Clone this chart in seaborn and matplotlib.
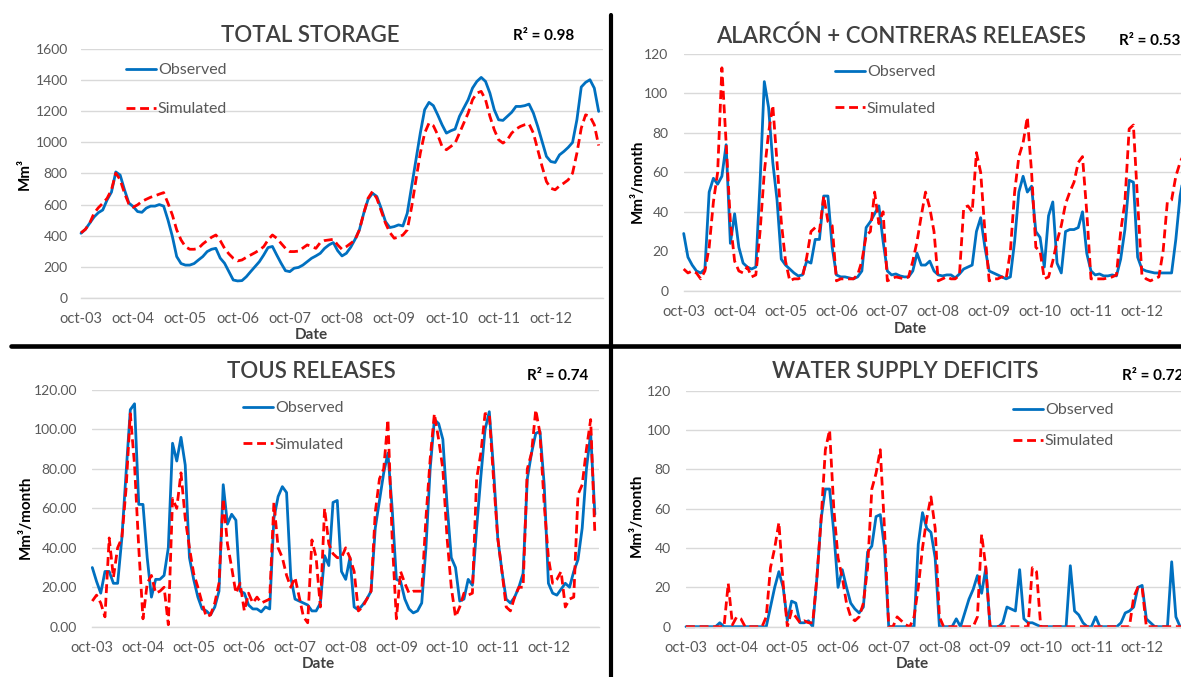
import numpy as np
import pandas as pd
import matplotlib.pyplot as plt
import seaborn as sns
from matplotlib.lines import Line2D

# monthly series, oct-03 .. sep-13
months = pd.date_range('2003-10-01', periods=120, freq='MS')
tick_labels = ['oct-03', 'oct-04', 'oct-05', 'oct-06', 'oct-07',
               'oct-08', 'oct-09', 'oct-10', 'oct-11', 'oct-12']

storage_obs = [415, 440, 480, 520, 548, 565, 630, 680, 810, 790, 695, 610,
               587, 555, 550, 577, 590, 590, 600, 590, 500, 395, 265, 220,
               210, 210, 220, 243, 265, 297, 312, 318, 255, 222, 168, 114,
               108, 110, 135, 168, 200, 232, 275, 323, 330, 275, 222, 174,
               168, 190, 195, 210, 232, 254, 269, 286, 318, 340, 355, 303,
               269, 286, 325, 376, 437, 544, 634, 673, 652, 576, 490, 452,
               458, 469, 462, 544, 716, 888, 1060, 1211, 1258, 1237, 1178, 1114,
               1060, 1075, 1086, 1168, 1222, 1275, 1350, 1393, 1419, 1393, 1318, 1211,
               1146, 1142, 1168, 1194, 1232, 1232, 1237, 1247, 1189, 1103, 1006, 910,
               877, 871, 920, 942, 968, 1000, 1146, 1357, 1387, 1404, 1350, 1200]
storage_sim = [418, 440, 480, 544, 580, 608, 640, 695, 802, 760, 673, 604,
               583, 598, 620, 634, 647, 656, 667, 677, 608, 533, 437, 372,
               329, 312, 312, 318, 346, 368, 389, 404, 368, 318, 282, 254,
               237, 243, 260, 275, 290, 307, 329, 372, 404, 383, 350, 318,
               297, 297, 300, 320, 340, 330, 318, 355, 368, 372, 376, 340,
               312, 329, 350, 372, 437, 544, 641, 684, 640, 560, 480, 420,
               383, 390, 404, 437, 583, 759, 931, 1060, 1125, 1108, 1049, 974,
               953, 974, 996, 1060, 1125, 1189, 1275, 1318, 1329, 1275, 1168, 1082,
               1017, 996, 1017, 1060, 1086, 1103, 1114, 1120, 1060, 953, 845, 748,
               705, 695, 720, 738, 759, 802, 931, 1092, 1178, 1168, 1114, 980]

alarcon_obs = [29, 17, 13, 10, 9, 11, 50, 57, 54, 58, 74, 24,
               39, 22, 14, 12, 11, 12, 55, 106, 93, 65, 46, 16,
               13, 11, 9, 7.5, 8, 15, 14, 26, 26, 48, 48, 22,
               8, 7, 7, 6.5, 6, 7, 10, 32, 35, 39, 43, 25,
               10, 8, 8.5, 7.5, 7, 7, 10, 19, 13, 13, 15, 10,
               8, 7.5, 8, 8, 6.5, 8.5, 11, 12, 13, 30, 37, 22,
               10, 9, 8, 7, 6, 7, 25, 50, 58, 50, 53, 30,
               27, 12, 38, 45, 14, 9, 30, 31, 31, 32, 40, 19,
               10, 8, 8.5, 7.5, 7.5, 8, 7.5, 16, 31, 56, 55, 17,
               11, 10, 9.5, 9, 9, 9, 9, 9, 26, 48, 60, 55]
alarcon_sim = [11, 9, 10, 9, 6, 10, 22, 45, 60, 113, 75, 35,
               15, 10, 9, 12, 7, 8, 30, 60, 80, 94, 65, 35,
               15, 5, 6, 6, 7, 17, 30, 32, 30, 48, 35, 33,
               5, 6, 6, 6, 6, 8, 15, 28, 30, 50, 34, 40,
               5, 6, 7, 6.5, 6, 7, 15, 25, 38, 50, 42, 30,
               5, 6, 7, 6, 6, 8, 42, 43, 40, 70, 60, 30,
               5, 6, 6, 7, 6, 20, 50, 68, 75, 88, 60, 22,
               20, 6, 7, 15, 25, 33, 44, 50, 55, 65, 68, 40,
               6, 6, 6, 6, 6.5, 7, 8, 30, 45, 82, 84, 45,
               8, 6, 5, 6, 7, 20, 45, 46, 58, 65, 70, 60]

tous_obs = [30, 23, 17, 28, 28, 22, 22, 45, 78, 110, 113, 62,
            62, 35, 15, 24, 24, 26, 40, 93, 84, 96, 82, 35,
            24, 15, 9, 8, 6, 10, 18, 72, 52, 57, 54, 18,
            17, 11, 9, 9, 7.5, 10, 9, 55, 66, 71, 68, 25,
            14, 13, 12, 11, 8, 8, 12, 36, 31, 63, 64, 28,
            24, 35, 10, 8.5, 11, 14, 18, 50, 64, 78, 88, 60,
            24, 23, 14, 9, 7, 8, 12, 40, 80, 105, 103, 95,
            62, 35, 30, 13, 14, 24, 21, 50, 76, 100, 109, 80,
            45, 28, 14, 12, 15, 20, 27, 75, 88, 98, 99, 72,
            22, 17, 16, 19, 22, 20, 28, 34, 50, 80, 98, 57]
tous_sim = [13, 16, 12, 5, 45, 25, 40, 45, 70, 108, 82, 40,
            4, 22, 26, 17, 18, 20, 1, 65, 60, 78, 55, 40,
            27, 20, 12, 5, 6, 12, 22, 65, 42, 30, 17, 22,
            8, 17, 12, 15, 12, 13, 14, 63, 40, 35, 26, 20,
            25, 15, 5, 2, 44, 35, 10, 60, 42, 37, 35, 35,
            40, 35, 28, 8, 10, 14, 18, 58, 75, 80, 105, 45,
            4, 28, 22, 17, 18, 18, 18, 55, 85, 108, 95, 80,
            45, 20, 5, 10, 17, 16, 17, 75, 88, 108, 108, 75,
            45, 28, 10, 8, 15, 20, 20, 80, 88, 110, 98, 62,
            35, 22, 24, 28, 10, 14, 15, 67, 72, 90, 105, 47]

deficit_obs = [0, 0, 0, 0, 0, 0, 0, 0, 2, 0, 0, 0,
               0, 0, 0, 0, 0, 0, 0, 0, 10, 20, 28, 20,
               3, 13, 12, 2, 2, 3, 0, 25, 55, 70, 70, 48,
               20, 29, 20, 12, 9, 7, 10, 38, 41, 56, 57, 40,
               0, 0, 0, 0, 0, 0, 0, 42, 58, 50, 48, 35,
               0, 0, 0, 0, 4, 0, 7, 14, 19, 26, 17, 30,
               0, 0, 0, 2, 10, 9, 8, 29, 4, 2, 2, 1,
               0, 0, 0, 0, 0, 0, 0, 31, 8, 6, 2, 0,
               0, 5, 0, 0, 0, 0, 0, 2, 7, 8, 10, 20,
               21, 4, 2, 0, 0, 0, 0, 33, 5, 0, 0, 0]
deficit_sim = [0, 0, 0, 0, 0, 0, 0, 0, 0, 0, 22, 1,
               5, 4, 0, 0, 0, 0, 0, 5, 30, 40, 53, 22,
               0, 8, 5, 2, 3, 2, 2, 25, 55, 90, 100, 60,
               35, 25, 12, 5, 3, 5, 12, 30, 70, 78, 90, 50,
               0, 0, 5, 3, 1, 0, 5, 20, 40, 55, 66, 50,
               5, 0, 0, 0, 0, 0, 0, 0, 0, 5, 47, 30,
               0, 0, 0, 0, 0, 0, 0, 0, 0, 0, 30, 28,
               0, 0, 0, 0, 0, 0, 0, 0, 0, 0, 0, 0,
               0, 0, 0, 0, 0, 0, 0, 0, 0, 0, 15, 20,
               20, 0, 0, 0, 0, 0, 0, 0, 0, 0, 0, 0]

titles = ['TOTAL STORAGE', 'ALARCÓN + CONTRERAS RELEASES',
          'TOUS RELEASES', 'WATER SUPPLY DEFICITS']
r2_labels = ['R² = 0.98', 'R² = 0.53', 'R² = 0.74', 'R² = 0.72']

sns.set_style('white')
plt.rcParams['font.family'] = ['Lato', 'DejaVu Sans']

W, H = 1181, 677
fig = plt.figure(figsize=(W / 100, H / 100), dpi=100)
BLUE, RED, GRID = '#0070C0', '#FF0000', '#D9D9D9'


def fx(x):
    return x / W


def fy(y):
    return 1 - y / H


# pixel layout of each panel (the right-hand charts run past the picture edge, as in the original)
panels = [
    dict(box=(81, 49.3, 603, 297.7), obs=storage_obs, sim=storage_sim, ymax=1600, ystep=200,
         fmt='{:.0f}', ylab='Mm³', ylab_xy=(25, 174), title_xy=(310, 35), r2_xy=(513, 36),
         date_xy=(311, 335), leg_xy=(126, 63), lsp=1.55, ypad=9.5),
    dict(box=(683.7, 54, 1192.8, 290.7), obs=alarcon_obs, sim=alarcon_sim, ymax=120, ystep=20,
         fmt='{:.0f}', ylab='Mm³/month', ylab_xy=(638, 181), title_xy=(901, 36), r2_xy=(1119, 41),
         date_xy=(910, 329), leg_xy=(835, 65), lsp=1.42, ypad=11),
    dict(box=(92.3, 390, 599.1, 626.7), obs=tous_obs, sim=tous_sim, ymax=120, ystep=20,
         fmt='{:.2f}', ylab='Mm³/month', ylab_xy=(26, 517), title_xy=(311, 372), r2_xy=(527, 376),
         date_xy=(318, 664), leg_xy=(243, 401), lsp=1.42, ypad=11),
    dict(box=(686, 390.7, 1192.8, 626.7), obs=deficit_obs, sim=deficit_sim, ymax=120, ystep=20,
         fmt='{:.0f}', ylab='Mm³/month', ylab_xy=(637, 515), title_xy=(905, 372), r2_xy=(1122, 376),
         date_xy=(912, 664), leg_xy=(1013, 403), lsp=1.05, ypad=11),
]

for p, title, r2 in zip(panels, titles, r2_labels):
    left, top, right, bottom = p['box']
    ax = fig.add_axes([fx(left), fy(bottom), (right - left) / W, (bottom - top) / H])
    idx = np.arange(len(months))
    sns.lineplot(x=idx, y=p['obs'], ax=ax, color=BLUE, linewidth=2,
                 label='Observed', clip_on=False)
    sns.lineplot(x=idx, y=p['sim'], ax=ax, color=RED, linewidth=2,
                 linestyle=(0, (3.2, 1.7)), label='Simulated', clip_on=False)

    ax.set_xlim(0, 120)
    ax.set_ylim(0, p['ymax'])
    ax.set_xticks(np.arange(0, 121, 12))
    ax.set_xticklabels(tick_labels + [''])
    yt = np.arange(0, p['ymax'] + 1, p['ystep'])
    ax.set_yticks(yt)
    ax.set_yticklabels([p['fmt'].format(v) for v in yt])
    ax.set_xlabel('')
    ax.set_ylabel('')
    for s in ['left', 'top', 'right']:
        ax.spines[s].set_visible(False)
    ax.spines['bottom'].set_color(GRID)
    ax.spines['bottom'].set_linewidth(1)
    ax.grid(axis='y', color=GRID, linewidth=1)
    ax.grid(axis='x', visible=False)
    ax.set_axisbelow(True)
    ax.tick_params(axis='x', length=5, width=1, color=GRID, direction='out',
                   labelsize=10.5, labelcolor='#595959', pad=5)
    ax.tick_params(axis='y', length=0, labelsize=10, labelcolor='#595959', pad=p['ypad'])

    ax.legend(loc='upper left', bbox_to_anchor=(fx(p['leg_xy'][0]), fy(p['leg_xy'][1])),
              bbox_transform=fig.transFigure, frameon=False, borderpad=0, borderaxespad=0,
              handlelength=1.9, handletextpad=0.1, labelspacing=p['lsp'],
              fontsize=11.5, labelcolor='#595959')

    fig.text(fx(p['title_xy'][0]), fy(p['title_xy'][1]), title, ha='center', va='center',
             fontsize=16, color='#404040', fontweight='semibold')
    fig.text(fx(p['r2_xy'][0]), fy(p['r2_xy'][1]), r2, ha='left', va='center',
             fontsize=11, color='black', fontweight='bold')
    fig.text(fx(p['date_xy'][0]), fy(p['date_xy'][1]), 'Date', ha='center', va='center',
             fontsize=11, color='#404040', fontweight='bold')
    fig.text(fx(p['ylab_xy'][0]), fy(p['ylab_xy'][1]), p['ylab'], ha='center', va='center',
             rotation=90, fontsize=11, color='black', fontweight='bold')

# black dividers between the four charts
fig.add_artist(Line2D([fx(611), fx(611)], [0, fy(15)], color='black', linewidth=3,
                      transform=fig.transFigure))
fig.add_artist(Line2D([fx(11), 1], [fy(346), fy(346)], color='black', linewidth=3.3,
                      transform=fig.transFigure))

fig.savefig('out.png', dpi=100)
